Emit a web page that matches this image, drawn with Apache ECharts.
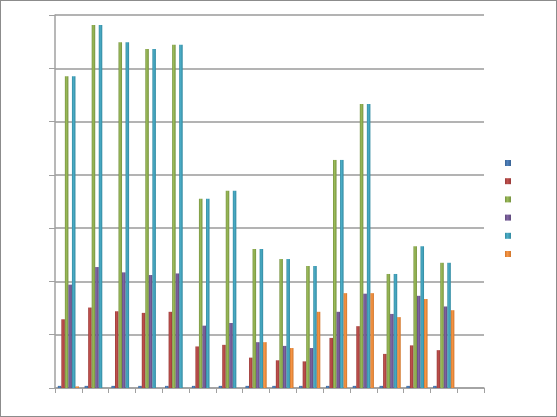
<!DOCTYPE html>
<html>
<head>
<meta charset="utf-8">
<script src="https://cdn.jsdelivr.net/npm/echarts@6/dist/echarts.min.js"></script>
<style>
    html, body { margin: 0; padding: 0; background: #fff; }
    #chart { width: 555px; height: 415px; border: 1px solid #8c8c8c; }
</style>
</head>
<body>
<div id="chart"></div>
<script>
    // 16 categories, last one empty
    var categories = ['1', '2', '3', '4', '5', '6', '7', '8', '9', '10', '11', '12', '13', '14', '15', '16'];
    var seriesNames = ['S1', 'S2', 'S3', 'S4', 'S5', 'S6'];
    var blueValues   = [0.4, 0.4, 0.4, 0.4, 0.4, 0.4, 0.4, 0.4, 0.4, 0.4, 0.4, 0.4, 0.4, 0.4, 0.4, null];
    var redValues    = [12.9, 15.1, 14.4, 14.1, 14.3, 7.8, 8.1, 5.7, 5.2, 5.0, 9.4, 11.6, 6.4, 8.0, 7.1, null];
    var greenValues  = [58.5, 68.1, 64.9, 63.6, 64.4, 35.5, 37.0, 26.1, 24.2, 22.9, 42.8, 53.3, 21.4, 26.6, 23.5, null];
    var purpleValues = [19.4, 22.7, 21.7, 21.2, 21.5, 11.7, 12.2, 8.6, 7.9, 7.5, 14.3, 17.7, 13.9, 17.3, 15.3, null];
    var tealValues   = [58.5, 68.1, 64.9, 63.6, 64.4, 35.5, 37.0, 26.1, 24.2, 22.9, 42.8, 53.3, 21.4, 26.6, 23.5, null];
    var orangeValues = [0.3, 0, 0, 0, 0, 0, 0, 8.6, 7.5, 14.3, 17.8, 17.8, 13.3, 16.7, 14.6, null];
    var yMin = 0, yMax = 70, yStep = 10;

    var colors = ['#4F81BD', '#C0504D', '#9BBB59', '#8064A2', '#4BACC6', '#F79646'];
    var dark   = ['#3a6494', '#983b39', '#76923f', '#5f4a7c', '#328aa1', '#d0762c'];
    var allValues = [blueValues, redValues, greenValues, purpleValues, tealValues, orangeValues];

    var series = allValues.map(function (vals, i) {
        return {
            name: seriesNames[i],
            type: 'bar',
            barGap: '0%',
            barCategoryGap: '21%',
            data: vals,
            itemStyle: {
                color: new echarts.graphic.LinearGradient(0, 0, 1, 0, [
                    {offset: 0, color: dark[i]},
                    {offset: 0.4, color: colors[i]},
                    {offset: 1, color: dark[i]}
                ])
            }
        };
    });

    var chart = echarts.init(document.getElementById('chart'));
    chart.setOption({
        animation: false,
        color: colors,
        grid: { left: 54, right: 72, top: 14, bottom: 28 },
        legend: {
            orient: 'vertical',
            left: 504,
            top: 159,
            padding: 0,
            itemWidth: 6,
            itemHeight: 6,
            itemGap: 12.2,
            icon: 'rect',
            formatter: function () { return ''; },
            data: seriesNames
        },
        xAxis: {
            type: 'category',
            data: categories,
            axisLine: { lineStyle: { color: '#a0a0a0', width: 1.5 } },
            axisTick: { show: true, length: 5, lineStyle: { color: '#a0a0a0' } },
            axisLabel: { show: false }
        },
        yAxis: {
            type: 'value',
            min: yMin,
            max: yMax,
            interval: yStep,
            axisLine: { show: true, lineStyle: { color: '#a0a0a0', width: 1.5 } },
            axisTick: { show: true, length: 6, lineStyle: { color: '#a0a0a0' } },
            axisLabel: { show: false },
            splitLine: { lineStyle: { color: '#9a9a9a', width: 1.5 } }
        },
        series: series
    });
</script>
</body>
</html>
